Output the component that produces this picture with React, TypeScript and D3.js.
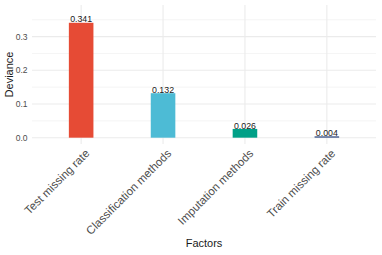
import React from "react";
import * as d3 from "d3";

const categories = ["Test missing rate", "Classification methods", "Imputation methods", "Train missing rate"];
const values = [0.341, 0.132, 0.026, 0.004];
const valueLabels = ["0.341", "0.132", "0.026", "0.004"];
const colors = ["#E64B35", "#4DBBD5", "#00A087", "#3C5488"];
const yTicks = [0, 0.1, 0.2, 0.3];
const yMinor = [0.05, 0.15, 0.25, 0.35];

const W = 382, H = 255;
const panel = { left: 32, right: 376, top: 5, bottom: 144 };
const FONT = "'Liberation Sans', Arial, Helvetica, sans-serif";

export default function App() {
  const yMax = 0.375;
  const yExp = yMax * 0.05;
  const y = d3.scaleLinear().domain([-yExp, yMax + yExp]).range([panel.bottom, panel.top]);
  const x = d3
    .scalePoint<string>()
    .domain(categories)
    .range([panel.left, panel.right])
    .padding(0.6);
  const step = x.step();
  const cx = (i: number) => x(categories[i]) as number;
  const barW = step * 0.3;
  const grid = "#EBEBEB";
  return (
    <svg width={W} height={H} style={{ position: "absolute", left: 0, top: 0, fontFamily: FONT }}>
      <rect width={W} height={H} fill="white" />
      {yMinor.map((t) => (
        <line key={"m" + t} x1={panel.left} x2={panel.right} y1={y(t)} y2={y(t)} stroke={grid} strokeWidth={0.55} />
      ))}
      {yTicks.map((t) => (
        <line key={"g" + t} x1={panel.left} x2={panel.right} y1={y(t)} y2={y(t)} stroke={grid} strokeWidth={1.07} />
      ))}
      {categories.map((c, i) => (
        <line key={"v" + c} x1={cx(i)} x2={cx(i)} y1={panel.top} y2={panel.bottom} stroke={grid} strokeWidth={1.07} />
      ))}
      {categories.map((c, i) => (
        <rect key={"b" + c} x={cx(i) - barW / 2} y={y(values[i])} width={barW} height={y(0) - y(values[i])} fill={colors[i]} />
      ))}
      {categories.map((c, i) => (
        <text key={"l" + c} x={cx(i)} y={y(values[i]) - 0.3} textAnchor="middle" fontSize={8.8} fill="#1a1a1a">
          {valueLabels[i]}
        </text>
      ))}
      {yTicks.map((t) => (
        <text key={"t" + t} x={27.5} y={y(t)} dy="0.35em" textAnchor="end" fontSize={8.5} fill="#4D4D4D">
          {d3.format(".1f")(t)}
        </text>
      ))}
      {categories.map((c, i) => (
        <text
          key={"x" + c}
          transform={`translate(${cx(i) + 3},${panel.bottom + 4}) rotate(-45)`}
          textAnchor="end"
          dy="0.75em"
          fontSize={11.5}
          fill="#4D4D4D"
        >
          {c}
        </text>
      ))}
      <text x={(panel.left + panel.right) / 2} y={247} textAnchor="middle" fontSize={11} fill="#1a1a1a">
        Factors
      </text>
      <text transform={`translate(12.5,${(panel.top + panel.bottom) / 2}) rotate(-90)`} textAnchor="middle" fontSize={11} fill="#1a1a1a">
        Deviance
      </text>
    </svg>
  );
}
